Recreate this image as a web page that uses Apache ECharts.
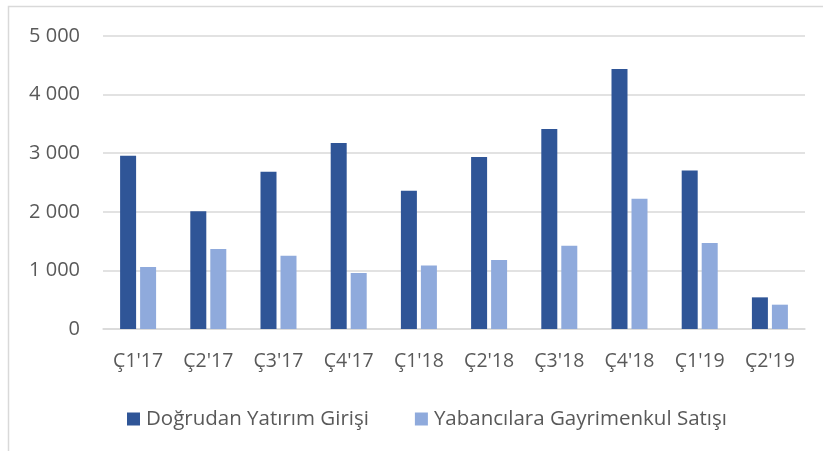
<!DOCTYPE html>
<html><head><meta charset="utf-8">
<script src="https://cdn.jsdelivr.net/npm/echarts@6/dist/echarts.min.js"></script>
<style>html,body{margin:0;padding:0;background:#fff}#c{width:823px;height:451px}</style>
</head><body><div id="c"></div>
<script>
const categories = ["Ç1'17","Ç2'17","Ç3'17","Ç4'17","Ç1'18","Ç2'18","Ç3'18","Ç4'18","Ç1'19","Ç2'19"];
const seriesNames = ["Doğrudan Yatırım Girişi","Yabancılara Gayrimenkul Satışı"];
const dogrudan = [2955,2010,2682,3176,2358,2937,3415,4438,2705,540];
const yabanci = [1057,1364,1250,955,1085,1176,1420,2222,1466,415];
const yTicks = [0,1000,2000,3000,4000,5000];

const font = "'Open Sans', 'Noto Sans', sans-serif";
const chart = echarts.init(document.getElementById('c'), null, {renderer:'canvas'});
chart.setOption({
  animation:false,
  graphic:[{type:'rect',shape:{x:8.5,y:6.5,width:830,height:460},style:{fill:'none',stroke:'#d9d9d9',lineWidth:1.5},silent:true}],
  grid:{left:103,right:18,top:36,bottom:122},
  legend:{
    top:403,left:122,itemGap:46,itemWidth:13,itemHeight:13,icon:'rect',
    textStyle:{color:'#595959',fontSize:20.5,fontFamily:font,padding:[0,0,0,1],lineHeight:22},
    data:seriesNames
  },
  xAxis:{type:'category',data:categories,
    axisLine:{lineStyle:{color:'#d9d9d9',width:1.5}},axisTick:{show:false},
    axisLabel:{color:'#595959',fontSize:19.5,fontFamily:font,margin:22}},
  yAxis:{type:'value',min:yTicks[0],max:yTicks[yTicks.length-1],interval:1000,
    axisLine:{show:false},axisTick:{show:false},
    splitLine:{lineStyle:{color:'#d9d9d9',width:1.5}},
    axisLabel:{color:'#595959',fontSize:20,fontFamily:font,margin:23,
      formatter:v=>String(v).replace(/\B(?=(\d{3})+(?!\d))/g,' ')}},
  series:[
    {name:seriesNames[0],type:'bar',data:dogrudan,barWidth:16,barGap:'25%',itemStyle:{color:'#2F5597'}},
    {name:seriesNames[1],type:'bar',data:yabanci,barWidth:16,itemStyle:{color:'#8FAADC'}}
  ]
});
</script></body></html>
